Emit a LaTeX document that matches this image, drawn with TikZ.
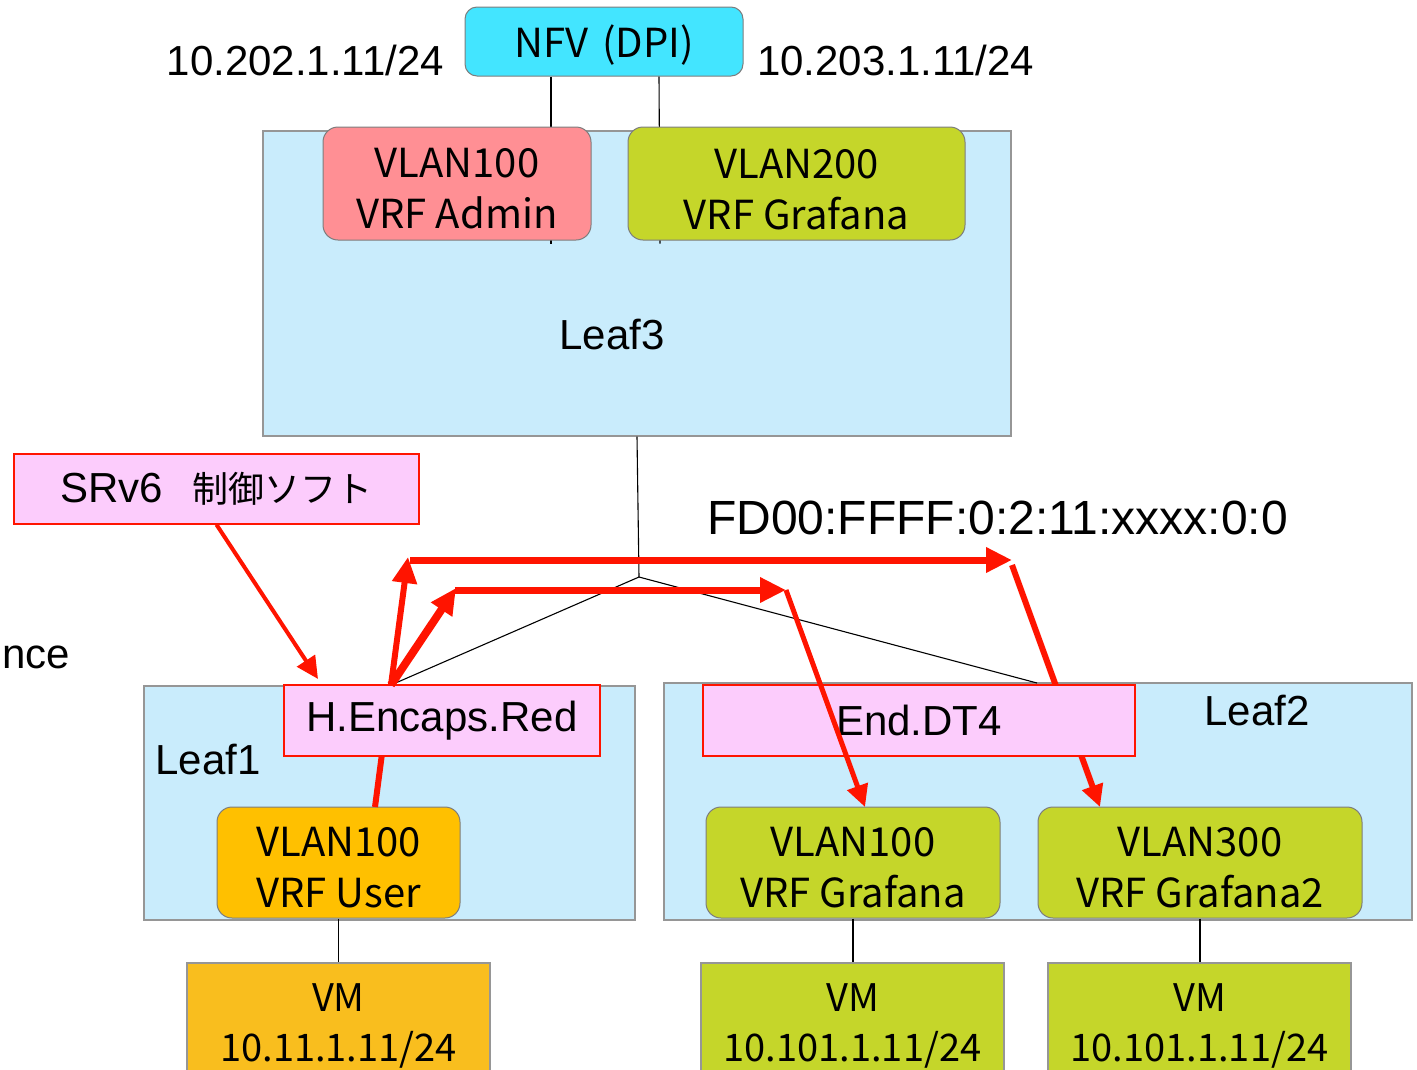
\documentclass[tikz,border=0pt]{standalone}
\usepackage{fontspec}
\setmainfont{Liberation Sans}
\newfontfamily\jp{Noto Sans CJK JP}
\usetikzlibrary{arrows.meta,calc}
\definecolor{leafblue}{RGB}{201,236,252}
\definecolor{bgray}{RGB}{150,150,150}
\definecolor{rgray}{RGB}{125,125,125}
\definecolor{nfvcyan}{RGB}{67,229,255}
\definecolor{adminpink}{RGB}{255,143,148}
\definecolor{grafgreen}{RGB}{197,214,42}
\definecolor{useryellow}{RGB}{255,192,0}
\definecolor{vmorange}{RGB}{249,190,30}
\definecolor{srpink}{RGB}{252,204,252}
\definecolor{arrred}{RGB}{255,20,0}
\begin{document}
\begin{tikzpicture}[x=1pt,y=-1pt,
  sz/.style 2 args={minimum width=#1pt,minimum height=#2pt,inner sep=0pt},
  leafbox/.style={draw=bgray,fill=leafblue,line width=1.3pt},
  vrfbox/.style={draw=rgray,line width=1pt,rounded corners=15pt},
  vrftext/.style={inner sep=0pt,align=center,font=\jp\fontsize{40}{51}\selectfont},
  vmbox/.style={draw=bgray,line width=1.3pt},
  vmtext/.style={inner sep=0pt,align=center,font=\jp\fontsize{38}{50}\selectfont},
  funcbox/.style={draw=arrred,fill=srpink,line width=1.3pt,font=\fontsize{42}{50}\selectfont},
  lbl/.style={inner sep=0pt,font=\fontsize{42}{50}\selectfont},
  link/.style={draw=black,line width=1.1pt},
  redln/.style={draw=arrred,line width=#1pt},
  tipA/.style={-{Triangle[length=26pt,width=24pt]}},
  tipB/.style={-{Triangle[length=22pt,width=21pt]}}
]
\useasboundingbox (0,0) rectangle (1417,1069);
\clip (0,0) rectangle (1417,1069);

% leaf backgrounds
\node[leafbox,sz={748}{305}] (leaf3) at (637,283.5) {};
\node[leafbox,sz={491}{234}] (leaf1) at (389.5,803) {};
\node[leafbox,sz={748}{237}] (leaf2) at (1038,801.5) {};

% NFV
\node[draw=rgray,fill=nfvcyan,line width=1pt,rounded corners=12pt,sz={278}{69}] (nfv) at (604,41.5) {};
\node[inner sep=0pt,font=\jp\fontsize{40}{46}\selectfont] (nfvt) at ($(nfv)+(0,4)$) {NFV\hspace{14pt}(DPI)};
\node[lbl,anchor=east] (ipl) at (444,60) {10.202.1.11/24};
\node[lbl,anchor=west] (ipr) at (757,60) {10.203.1.11/24};

% coordinates
\coordinate (junc) at (639,577);
\coordinate (hstart) at (391,685);
\coordinate (l2top) at (1037,683);
\coordinate (uout) at (375,807);
\coordinate (a1tip) at (408,557);
\coordinate (h1s) at (410,560);
\coordinate (h1e) at (1012,560);
\coordinate (a2tip) at (456,588);
\coordinate (h2s) at (455,590);
\coordinate (h2e) at (786,590);
\coordinate (d1s) at (1012,565);
\coordinate (g2in) at (1100,807);
\coordinate (g1in) at (865,807);
\coordinate (srtip) at (318,679);

% black links behind boxes
\draw[link] ([xshift=-53pt]nfv.south) -- ++(0,167);
\draw[link] ([xshift=55pt]nfv.south) -- ++(1,167);
\node[vrfbox,fill=adminpink,sz={268}{113}] (admin) at (457,183.5) {};
\node[vrftext] (admint) at ($(admin)+(0,5)$) {VLAN100\\VRF Admin};
\node[vrfbox,fill=grafgreen,sz={337}{113}] (graf200) at (796.5,183.5) {};
\node[vrftext] (graf200t) at ($(graf200)+(0,6)$) {VLAN200\\VRF Grafana};
\node[lbl] (leaf3lbl) at (612,335) {Leaf3};

\draw[link] (leaf3.south) -- (junc) -- (hstart);
\draw[link] (junc) -- (l2top);

% lower boxes
\node[vrfbox,fill=useryellow,sz={243}{111}] (user) at (338.5,862.5) {};
\node[vrftext] (usert) at ($(user)+(0,5)$) {VLAN100\\VRF User};
\node[vrfbox,fill=grafgreen,sz={294}{111}] (graf100) at (853,862.5) {};
\node[vrftext] (graf100t) at ($(graf100)+(0,5)$) {VLAN100\\VRF Grafana};
\node[vrfbox,fill=grafgreen,sz={324}{111}] (graf2) at (1200,862.5) {};
\node[vrftext] (graf2t) at ($(graf2)+(0,5)$) {VLAN300\\VRF Grafana2};

\node[vmbox,fill=vmorange,sz={303}{120}] (vm1) at (338.5,1023) {};
\node[vmtext] (vm1t) at ($(vm1)+(0,3)$) {VM\\10.11.1.11/24};
\node[vmbox,fill=grafgreen,sz={303}{120}] (vm2) at (852.5,1023) {};
\node[vmtext] (vm2t) at ($(vm2)+(0,3)$) {VM\\10.101.1.11/24};
\node[vmbox,fill=grafgreen,sz={303}{120}] (vm3) at (1199.5,1023) {};
\node[vmtext] (vm3t) at ($(vm3)+(0,3)$) {VM\\10.101.1.11/24};
\draw[link] (user.south) -- (vm1.north);
\draw[link] (graf100.south) -- (graf100.south |- vm2.north);
\draw[link] (graf2.south) -- (graf2.south |- vm3.north);

\node[lbl] (leaf1lbl) at (208,759) {Leaf1};
\node[lbl] (leaf2lbl) at (1257,710) {Leaf2};

% red lines hidden behind function boxes
\draw[redln=6] (uout) -- (hstart);
\draw[redln=6,tipB] (d1s) -- (g2in);

% function boxes
\node[funcbox,sz={316}{71}] (henc) at (442,720.5) {H.Encaps.Red};
\node[funcbox,sz={432}{71}] (enddt) at (919,720.5) {End.DT4};
\node[funcbox,sz={405}{70},font=\fontsize{42}{50}\selectfont] (srv6) at (216.5,489)
  {SRv6\hspace{30pt}{\jp\fontsize{36}{40}\selectfont 制御ソフト}};

% texts
\node[lbl,anchor=west,font=\fontsize{48}{56}\selectfont] (fd) at (707,518) {FD00:FFFF:0:2:11:xxxx:0:0};
\node[lbl,anchor=west] (nce) at (2,657) {nce};

% red arrows on top
\draw[redln=6,tipA] (hstart) -- (a1tip);
\draw[redln=8,tipA] (hstart) -- (a2tip);
\draw[redln=7,tipA] (h1s) -- (h1e);
\draw[redln=7,tipA] (h2s) -- (h2e);
\draw[redln=5,tipB] (h2e) -- (g1in);
\draw[redln=4,tipB] (srv6.south) -- (srtip);
\end{tikzpicture}
\end{document}
